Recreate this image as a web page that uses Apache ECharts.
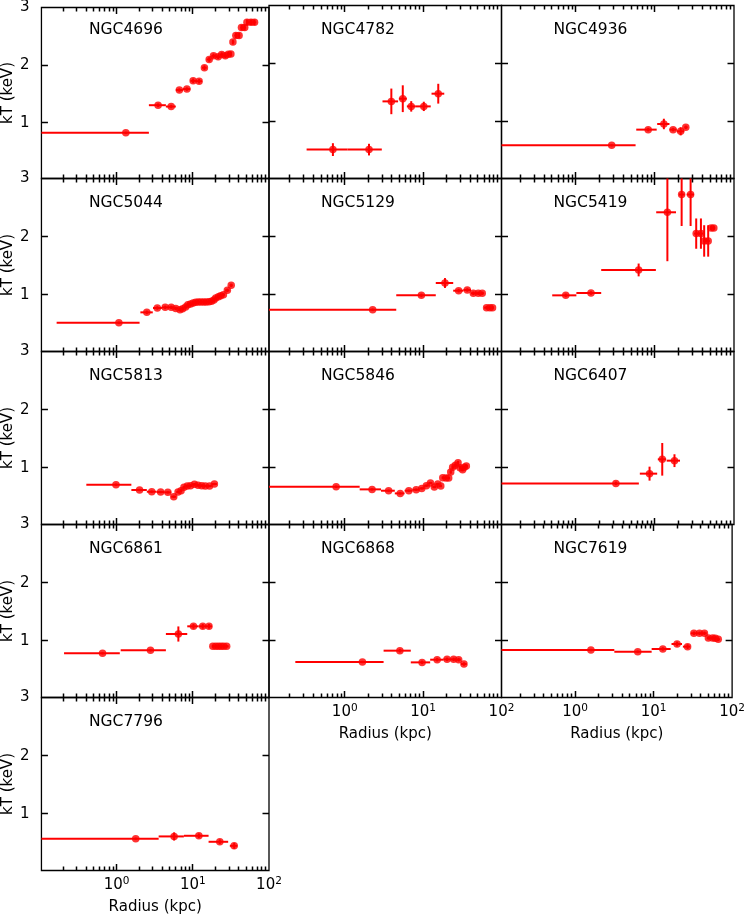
<!DOCTYPE html>
<html>
<head>
<meta charset="utf-8">
<script src="https://cdn.jsdelivr.net/npm/echarts@6/dist/echarts.min.js"></script>
<style>
html,body{margin:0;padding:0;background:#fff;}
#chart{width:748px;height:917px;}
</style>
</head>
<body>
<div id="chart"></div>
<script>
// ---------------- data ----------------
const GALAXIES = ['NGC4696','NGC4782','NGC4936','NGC5044','NGC5129','NGC5419','NGC5813','NGC5846','NGC6407','NGC6861','NGC6868','NGC7619','NGC7796'];

const R_4696  = [1.32, 3.5, 5.2, 6.66, 8.36, 10.1, 12.1, 14.2, 16.4, 18.7, 21.5, 23.9, 26.7, 29.2, 31.6, 33.6, 36.7, 40.5, 43.5, 48.0, 51.4, 58.0, 64.6];
const KT_4696 = [0.823, 1.303, 1.28, 1.566, 1.583, 1.726, 1.72, 1.954, 2.097, 2.16, 2.143, 2.183, 2.16, 2.19, 2.194, 2.40, 2.514, 2.514, 2.651, 2.651, 2.743, 2.743, 2.743];
const LO_4696 = [0, 2.65, 4.43, 5.98, 7.4, 9.3, 11.0, 13.2, 15.2, 17.5, 20, 22.7, 25.2, 28, 30.4, 32.6, 35, 38.5, 42, 45.6, 50, 54.5, 61];
const HI_4696 = [2.65, 4.43, 5.98, 7.4, 9.3, 11.0, 13.2, 15.2, 17.5, 20, 22.7, 25.2, 28, 30.4, 32.6, 35, 38.5, 42, 45.6, 50, 54.5, 61, 68];
const ER_4696 = [0.02, 0.03, 0.03, 0.03, 0.03, 0.04, 0.04, 0.04, 0.04, 0.04, 0.04, 0.04, 0.04, 0.04, 0.04, 0.04, 0.05, 0.05, 0.05, 0.05, 0.05, 0.05, 0.05];

const R_4782  = [0.706, 2.04, 3.93, 5.5, 7.05, 10.2, 15.6];
const KT_4782 = [0.526, 0.526, 1.354, 1.4, 1.268, 1.268, 1.486];
const LO_4782 = [0.326, 1.08, 3.03, 4.9, 6.2, 7.9, 12.8];
const HI_4782 = [1.08, 2.97, 4.79, 6.2, 7.9, 12.5, 18.6];
const ER_4782 = [0.11, 0.10, 0.22, 0.23, 0.09, 0.08, 0.17];

const R_4936  = [2.85, 8.24, 13.0, 17.0, 21.2, 24.6];
const KT_4936 = [0.60, 0.869, 0.966, 0.869, 0.84, 0.909];
const LO_4936 = [0, 5.82, 10.7, 15.3, 18.9, 23.5];
const HI_4936 = [5.71, 10.55, 15.3, 18.9, 23.5, 26];
const ER_4936 = [0.02, 0.03, 0.09, 0.03, 0.07, 0.03];

const R_5044  = [1.07, 2.49, 3.42, 4.34, 5.2, 5.97, 6.79, 7.35, 8.04, 8.61, 9.33, 10.1, 10.9, 11.8, 12.8, 13.9, 15.0, 16.3, 17.6, 18.9, 20.0, 21.7, 23.2, 25.2, 28.4, 31.9];
const KT_5044 = [0.524, 0.702, 0.777, 0.788, 0.788, 0.77, 0.748, 0.765, 0.794, 0.834, 0.845, 0.862, 0.874, 0.88, 0.88, 0.88, 0.88, 0.885, 0.891, 0.914, 0.948, 0.971, 0.989, 1.006, 1.08, 1.166];
const LO_5044 = [0.163, 2.05, 3.0, 3.93, 4.8, 5.6, 6.4, 7.1, 7.7, 8.3, 9.0, 9.7, 10.5, 11.4, 12.3, 13.3, 14.5, 15.7, 17.0, 18.3, 19.5, 20.8, 22.5, 24.0, 26.5, 30.3];
const HI_5044 = [2.0, 2.98, 3.93, 4.8, 5.6, 6.4, 7.1, 7.7, 8.3, 9.0, 9.7, 10.5, 11.4, 12.3, 13.3, 14.5, 15.7, 17.0, 18.3, 19.5, 20.8, 22.5, 24.0, 26.5, 30.3, 33.5];
const ER_5044 = [0.02, 0.03, 0.03, 0.03, 0.03, 0.03, 0.03, 0.03, 0.03, 0.03, 0.03, 0.03, 0.03, 0.03, 0.03, 0.03, 0.03, 0.03, 0.03, 0.03, 0.03, 0.03, 0.03, 0.03, 0.03, 0.03];

const R_5129  = [2.27, 9.5, 19.0, 28.4, 36.6, 43.7, 50.5, 56.8, 64.5, 71.1, 76.9];
const KT_5129 = [0.748, 0.994, 1.206, 1.074, 1.086, 1.03, 1.03, 1.03, 0.782, 0.782, 0.782];
const LO_5129 = [0, 4.54, 14.5, 24.2, 32.6, 40.8, 47, 54, 60, 68, 74.5];
const HI_5129 = [4.54, 14.5, 24.2, 32.6, 40.8, 47, 54, 60, 68, 74.5, 80];
const ER_5129 = [0.02, 0.03, 0.085, 0.03, 0.03, 0.03, 0.03, 0.03, 0.03, 0.03, 0.03];

const R_5419  = [0.749, 1.56, 6.24, 14.4, 21.8, 28.3, 33.3, 38.2, 42.0, 47.2, 51.4, 55.6];
const KT_5419 = [0.994, 1.034, 1.43, 2.42, 2.725, 2.725, 2.054, 2.054, 1.928, 1.928, 2.152, 2.152];
const LO_5419 = [0.505, 1.02, 2.1, 10.4, 20.2, 25.2, 31.3, 35.5, 40.5, 44.5, 49.5, 53.5];
const HI_5419 = [1.02, 2.1, 10.3, 18.5, 23.8, 31.2, 35.5, 40.5, 44.5, 49.5, 53.5, 58];
const ER_5419 = [0.03, 0.03, 0.11, 0.84, 0.54, 0.54, 0.26, 0.26, 0.27, 0.27, 0.04, 0.04];

const R_5813  = [0.98, 2.0, 2.89, 3.78, 4.7, 5.62, 6.4, 7.0, 7.65, 8.45, 9.33, 10.5, 11.7, 13.1, 14.6, 16.6, 19.2];
const KT_5813 = [0.713, 0.622, 0.593, 0.587, 0.582, 0.507, 0.587, 0.61, 0.668, 0.69, 0.696, 0.719, 0.702, 0.696, 0.69, 0.69, 0.725];
const LO_5813 = [0.40, 1.56, 2.49, 3.35, 4.25, 5.2, 6.05, 6.75, 7.3, 8.0, 8.9, 9.8, 11.1, 12.4, 13.8, 15.5, 17.7];
const HI_5813 = [1.56, 2.49, 3.35, 4.25, 5.2, 6.05, 6.75, 7.3, 8.0, 8.9, 9.8, 11.1, 12.4, 13.8, 15.5, 17.7, 20.7];
const ER_5813 = [0.02, 0.02, 0.02, 0.02, 0.02, 0.02, 0.02, 0.02, 0.02, 0.02, 0.02, 0.02, 0.02, 0.02, 0.02, 0.02, 0.02];

const R_5846  = [0.776, 2.23, 3.63, 5.1, 6.57, 8.15, 9.6, 11.0, 12.4, 13.9, 15.4, 16.8, 17.8, 19.6, 21.2, 22.5, 23.8, 25.8, 27.9, 29.5, 31.9, 33.5, 35.6];
const KT_5846 = [0.679, 0.633, 0.61, 0.564, 0.61, 0.627, 0.65, 0.696, 0.742, 0.673, 0.725, 0.69, 0.834, 0.828, 0.828, 0.931, 1.011, 1.046, 1.092, 1.006, 0.971, 1.011, 1.034];
const LO_5846 = [0, 1.55, 2.9, 4.35, 5.8, 7.3, 9.0, 10.3, 11.7, 13.1, 14.6, 16.1, 17.3, 18.5, 20.6, 21.9, 23.1, 24.6, 27.0, 28.8, 30.3, 32.8, 34.3];
const HI_5846 = [1.55, 2.9, 4.35, 5.8, 7.3, 9.0, 10.3, 11.7, 13.1, 14.6, 16.1, 17.3, 18.5, 20.6, 21.9, 23.1, 24.6, 27.0, 28.8, 30.3, 32.8, 34.3, 37];
const ER_5846 = [0.02, 0.02, 0.02, 0.02, 0.02, 0.02, 0.02, 0.02, 0.02, 0.02, 0.02, 0.02, 0.02, 0.02, 0.02, 0.03, 0.03, 0.03, 0.03, 0.03, 0.03, 0.03, 0.03];

const R_6407  = [3.22, 8.57, 12.4, 17.7];
const KT_6407 = [0.736, 0.903, 1.149, 1.126];
const LO_6407 = [0, 6.46, 10.9, 14.1];
const HI_6407 = [6.28, 10.7, 13.9, 20.8];
const ER_6407 = [0.03, 0.12, 0.28, 0.11];

const R_6861  = [0.653, 2.78, 6.46, 10.2, 13.5, 16.3, 18.3, 20.0, 21.7, 23.5, 25.4, 27.8];
const KT_6861 = [0.788, 0.84, 1.12, 1.252, 1.252, 1.252, 0.908, 0.908, 0.908, 0.908, 0.908, 0.908];
const LO_6861 = [0.204, 1.13, 4.43, 8.45, 11.9, 14.9, 17.8, 19.1, 20.8, 22.6, 24.5, 26.5];
const HI_6861 = [1.10, 4.43, 8.45, 11.9, 14.9, 17.8, 19.1, 20.8, 22.6, 24.5, 26.5, 29.5];
const ER_6861 = [0.02, 0.02, 0.13, 0.04, 0.04, 0.04, 0.02, 0.02, 0.02, 0.02, 0.02, 0.02];

const R_6868  = [1.68, 5.05, 9.7, 15.1, 20.2, 24.5, 28.4, 33.2];
const KT_6868 = [0.639, 0.834, 0.633, 0.679, 0.685, 0.685, 0.679, 0.605];
const LO_6868 = [0.234, 3.13, 6.96, 12.3, 18.1, 22.3, 26.6, 30.3];
const HI_6868 = [3.13, 6.96, 12.3, 18.1, 22.3, 26.6, 30.3, 36];
const ER_6868 = [0.02, 0.03, 0.03, 0.03, 0.03, 0.03, 0.03, 0.03];

const R_7619  = [1.59, 6.28, 13.1, 19.9, 27.1, 32.6, 38.4, 44.4, 49.8, 56.5, 61.1, 66.6];
const KT_7619 = [0.845, 0.817, 0.863, 0.948, 0.903, 1.132, 1.132, 1.132, 1.052, 1.052, 1.046, 1.029];
const LO_7619 = [0, 3.16, 9.44, 16.9, 23.6, 29.8, 35.6, 41.2, 47.5, 52.5, 59.5, 63.5];
const HI_7619 = [3.16, 9.44, 16.5, 23.0, 29.3, 35.6, 41.2, 47.5, 52.5, 59.5, 63.5, 70];
const ER_7619 = [0.02, 0.02, 0.03, 0.04, 0.04, 0.03, 0.03, 0.03, 0.03, 0.03, 0.03, 0.03];

const R_7796  = [1.78, 5.68, 12.0, 22.6, 34.9];
const KT_7796 = [0.575, 0.615, 0.626, 0.523, 0.454];
const LO_7796 = [0, 3.56, 7.63, 16.1, 30.6];
const HI_7796 = [3.56, 7.63, 16.1, 29.1, 38.5];
const ER_7796 = [0.02, 0.07, 0.04, 0.04, 0.05];

const X_MAJOR_TICKS = [1, 10];
const X_LABELS = [1, 10, 100];
const X_MINOR_TICKS = [0.2,0.3,0.4,0.5,0.6,0.7,0.8,0.9, 2,3,4,5,6,7,8,9, 20,30,40,50,60,70,80,90];
const Y_TICKS = [1, 2];
const Y_LABELS = [1, 2, 3];
const X_MIN_BY_COL = [0.103, 0.108, 0.1155];
const X_MAX = 100;
const Y_MIN = 0.03, Y_MAX = 3;

// ---------------- build ----------------
const SETS = [
  [R_4696, KT_4696, LO_4696, HI_4696, ER_4696],
  [R_4782, KT_4782, LO_4782, HI_4782, ER_4782],
  [R_4936, KT_4936, LO_4936, HI_4936, ER_4936],
  [R_5044, KT_5044, LO_5044, HI_5044, ER_5044],
  [R_5129, KT_5129, LO_5129, HI_5129, ER_5129],
  [R_5419, KT_5419, LO_5419, HI_5419, ER_5419],
  [R_5813, KT_5813, LO_5813, HI_5813, ER_5813],
  [R_5846, KT_5846, LO_5846, HI_5846, ER_5846],
  [R_6407, KT_6407, LO_6407, HI_6407, ER_6407],
  [R_6861, KT_6861, LO_6861, HI_6861, ER_6861],
  [R_6868, KT_6868, LO_6868, HI_6868, ER_6868],
  [R_7619, KT_7619, LO_7619, HI_7619, ER_7619],
  [R_7796, KT_7796, LO_7796, HI_7796, ER_7796]
];

const FONT = 'DejaVu Sans';
const RED = '#ff0000';
const COL_LEFT = [37, 269, 501.5];
const COL_W = [232, 232.5, 232.5];
const ROW_TOP0 = 5.5, ROW_H = 173;
const BOTTOM_PANELS = [10, 11, 12];
const MAJOR_LEN = 6.5, MINOR_LEN = 4;

// one tick item per mark: [xValue, yValue, side(0 bottom,1 top,2 left,3 right), length]
const TICK_ITEMS = [];
X_MAJOR_TICKS.forEach(function (v) { TICK_ITEMS.push([v, 1, 0, MAJOR_LEN]); TICK_ITEMS.push([v, 1, 1, MAJOR_LEN]); });
X_MINOR_TICKS.forEach(function (v) { TICK_ITEMS.push([v, 1, 0, MINOR_LEN]); TICK_ITEMS.push([v, 1, 1, MINOR_LEN]); });
Y_TICKS.forEach(function (v) { TICK_ITEMS.push([1, v, 2, MAJOR_LEN]); TICK_ITEMS.push([1, v, 3, MAJOR_LEN]); });

function crisp(v) { return Math.round(v - 0.5) + 0.5; }

function renderTick(params, api) {
  const cs = params.coordSys;
  const side = api.value(2), len = api.value(3);
  const p = api.coord([api.value(0), api.value(1)]);
  if (side < 2 && (p[0] < cs.x + 1 || p[0] > cs.x + cs.width - 1)) return null;
  const px = crisp(p[0]), py = crisp(p[1]);
  let shape;
  if (side === 0) shape = { x1: px, y1: cs.y + cs.height, x2: px, y2: cs.y + cs.height - len };
  else if (side === 1) shape = { x1: px, y1: cs.y, x2: px, y2: cs.y + len };
  else if (side === 2) shape = { x1: cs.x, y1: py, x2: cs.x + len, y2: py };
  else shape = { x1: cs.x + cs.width, y1: py, x2: cs.x + cs.width - len, y2: py };
  return { type: 'line', shape: shape, style: { stroke: '#000', lineWidth: 1.5 } };
}

function xLabelFmt(v) {
  const e = Math.round(Math.log(v) / Math.LN10);
  return '{b|10}{s|' + e + '}';
}

const grids = [], xAxes = [], yAxes = [], series = [], titles = [];

GALAXIES.forEach(function (name, g) {
  const row = Math.floor(g / 3), col = g % 3;
  const left = COL_LEFT[col], top = ROW_TOP0 + ROW_H * row;
  const isBottom = BOTTOM_PANELS.indexOf(g) >= 0;
  grids.push({ left: left, top: top, width: COL_W[col], height: ROW_H, show: true,
    borderColor: '#000', borderWidth: 1.3 });

  xAxes.push({
    gridIndex: g, type: 'log', logBase: 10, min: X_MIN_BY_COL[col], max: X_MAX, position: 'bottom',
    axisLine: { show: false }, splitLine: { show: false }, axisTick: { show: false },
    axisLabel: isBottom ? {
      show: true, customValues: X_LABELS, formatter: xLabelFmt, margin: 5, color: '#000',
      rich: {
        b: { fontSize: 15, fontFamily: FONT, color: '#000', lineHeight: 20 },
        s: { fontSize: 10.5, fontFamily: FONT, color: '#000', lineHeight: 11, verticalAlign: 'top' }
      }
    } : { show: false },
    name: isBottom ? 'Radius (kpc)' : '', nameLocation: 'middle', nameGap: 29,
    nameTextStyle: { fontSize: 15, fontFamily: FONT, color: '#000' }
  });
  yAxes.push({
    gridIndex: g, type: 'value', min: Y_MIN, max: Y_MAX, position: 'left',
    axisLine: { show: false }, splitLine: { show: false }, axisTick: { show: false },
    axisLabel: col === 0 ? { show: true, customValues: Y_LABELS, margin: 12, fontSize: 15, fontFamily: FONT, color: '#000' } : { show: false },
    name: col === 0 ? 'kT (keV)' : '', nameLocation: 'middle', nameGap: 23,
    nameTextStyle: { fontSize: 15, fontFamily: FONT, color: '#000' }
  });

  series.push({
    type: 'custom', xAxisIndex: g, yAxisIndex: g, data: TICK_ITEMS.map(function (t) { return t.slice(); }),
    encode: { x: 0, y: 1 }, z: 5, renderItem: renderTick
  });

  const S = SETS[g];
  const r = S[0], kt = S[1], lo = S[2], hi = S[3], er = S[4];
  const errData = r.map(function (v, i) { return [v, kt[i], lo[i], hi[i], er[i]]; });
  const ptData = r.map(function (v, i) { return [v, kt[i]]; });

  series.push({
    type: 'custom', xAxisIndex: g, yAxisIndex: g, data: errData,
    encode: { x: 0, y: 1 }, z: 2,
    renderItem: function (params, api) {
      const cs = params.coordSys;
      const cx = function (v) { return Math.min(Math.max(v, cs.x), cs.x + cs.width); };
      const cy = function (v) { return Math.min(Math.max(v, cs.y), cs.y + cs.height); };
      const x = api.value(0), y = api.value(1), l = api.value(2), h = api.value(3), e = api.value(4);
      const pL = api.coord([l > 0 ? l : 1e-6, y]);
      const pH = api.coord([h, y]);
      const pT = api.coord([x, y + e]);
      const pB = api.coord([x, y - e]);
      const st = { stroke: RED, lineWidth: 2 };
      return { type: 'group', children: [
        { type: 'line', shape: { x1: cx(pL[0]), y1: pL[1], x2: cx(pH[0]), y2: pH[1] }, style: st },
        { type: 'line', shape: { x1: pT[0], y1: cy(pT[1]), x2: pB[0], y2: cy(pB[1]) }, style: st }
      ] };
    }
  });
  series.push({
    type: 'scatter', xAxisIndex: g, yAxisIndex: g, data: ptData,
    symbol: 'circle', symbolSize: 7.5, itemStyle: { color: RED }, z: 3
  });

  titles.push({ type: 'text', x: left + 52, y: top + 24.3, z: 10,
    style: { text: name, fontSize: 15.5, fontFamily: FONT, fill: '#000', align: 'left', verticalAlign: 'middle' } });
});

const chart = echarts.init(document.getElementById('chart'), null, { renderer: 'canvas' });
chart.setOption({
  backgroundColor: '#fff',
  animation: false,
  tooltip: { show: false },
  grid: grids, xAxis: xAxes, yAxis: yAxes, series: series, graphic: titles
});
</script>
</body>
</html>
